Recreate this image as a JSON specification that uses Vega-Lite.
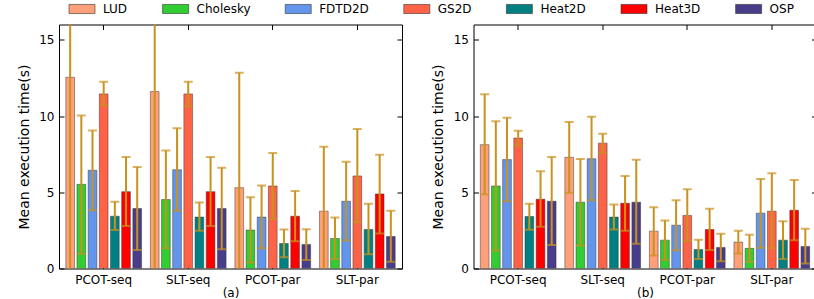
{
  "$schema": "https://vega.github.io/schema/vega-lite/v6.json",
  "padding": {"left": 16, "top": 1.5, "right": 0, "bottom": 0},
  "background": "white",
  "config": {
    "font": "DejaVu Sans",
    "view": {"stroke": "black", "strokeWidth": 1},
    "axis": {"labelFont": "DejaVu Sans", "titleFont": "DejaVu Sans", "labelColor": "black", "titleColor": "black", "tickColor": "black", "domainColor": "black", "labelFontSize": 12, "titleFontWeight": "normal", "grid": false},
    "legend": {"labelFont": "DejaVu Sans", "labelFontSize": 12, "labelColor": "black"}
  },
  "datasets": {
    "d": [
      {"panel": "a", "config": "PCOT-seq", "bench": "LUD", "mean": 12.54, "lo": -1, "hi": 26},
      {"panel": "a", "config": "PCOT-seq", "bench": "Cholesky", "mean": 5.52, "lo": 0.97, "hi": 10.03},
      {"panel": "a", "config": "PCOT-seq", "bench": "FDTD2D", "mean": 6.44, "lo": 3.82, "hi": 9.05},
      {"panel": "a", "config": "PCOT-seq", "bench": "GS2D", "mean": 11.45, "lo": 10.69, "hi": 12.25},
      {"panel": "a", "config": "PCOT-seq", "bench": "Heat2D", "mean": 3.43, "lo": 2.52, "hi": 4.37},
      {"panel": "a", "config": "PCOT-seq", "bench": "Heat3D", "mean": 5.04, "lo": 2.78, "hi": 7.31},
      {"panel": "a", "config": "PCOT-seq", "bench": "OSP", "mean": 3.93, "lo": 1.21, "hi": 6.66},
      {"panel": "a", "config": "SLT-seq", "bench": "LUD", "mean": 11.6, "lo": -1, "hi": 24},
      {"panel": "a", "config": "SLT-seq", "bench": "Cholesky", "mean": 4.52, "lo": 1.32, "hi": 7.74},
      {"panel": "a", "config": "SLT-seq", "bench": "FDTD2D", "mean": 6.48, "lo": 3.78, "hi": 9.2},
      {"panel": "a", "config": "SLT-seq", "bench": "GS2D", "mean": 11.45, "lo": 10.64, "hi": 12.25},
      {"panel": "a", "config": "SLT-seq", "bench": "Heat2D", "mean": 3.37, "lo": 2.47, "hi": 4.32},
      {"panel": "a", "config": "SLT-seq", "bench": "Heat3D", "mean": 5.04, "lo": 2.78, "hi": 7.31},
      {"panel": "a", "config": "SLT-seq", "bench": "OSP", "mean": 3.93, "lo": 1.27, "hi": 6.61},
      {"panel": "a", "config": "PCOT-par", "bench": "LUD", "mean": 5.3, "lo": -2.2, "hi": 12.84},
      {"panel": "a", "config": "PCOT-par", "bench": "Cholesky", "mean": 2.52, "lo": 0.4, "hi": 4.67},
      {"panel": "a", "config": "PCOT-par", "bench": "FDTD2D", "mean": 3.37, "lo": 1.32, "hi": 5.44},
      {"panel": "a", "config": "PCOT-par", "bench": "GS2D", "mean": 5.41, "lo": 3.24, "hi": 7.57},
      {"panel": "a", "config": "PCOT-par", "bench": "Heat2D", "mean": 1.64, "lo": 0.73, "hi": 2.56},
      {"panel": "a", "config": "PCOT-par", "bench": "Heat3D", "mean": 3.43, "lo": 1.78, "hi": 5.08},
      {"panel": "a", "config": "PCOT-par", "bench": "OSP", "mean": 1.58, "lo": 0.56, "hi": 2.58},
      {"panel": "a", "config": "SLT-par", "bench": "LUD", "mean": 3.76, "lo": -0.46, "hi": 7.98},
      {"panel": "a", "config": "SLT-par", "bench": "Cholesky", "mean": 1.97, "lo": 0.62, "hi": 3.34},
      {"panel": "a", "config": "SLT-par", "bench": "FDTD2D", "mean": 4.41, "lo": 1.84, "hi": 7.0},
      {"panel": "a", "config": "SLT-par", "bench": "GS2D", "mean": 6.07, "lo": 3.04, "hi": 9.14},
      {"panel": "a", "config": "SLT-par", "bench": "Heat2D", "mean": 2.56, "lo": 0.93, "hi": 4.24},
      {"panel": "a", "config": "SLT-par", "bench": "Heat3D", "mean": 4.89, "lo": 2.3, "hi": 7.46},
      {"panel": "a", "config": "SLT-par", "bench": "OSP", "mean": 2.1, "lo": 0.45, "hi": 3.78},
      {"panel": "b", "config": "PCOT-seq", "bench": "LUD", "mean": 8.12, "lo": 4.87, "hi": 11.43},
      {"panel": "b", "config": "PCOT-seq", "bench": "Cholesky", "mean": 5.41, "lo": 1.17, "hi": 9.66},
      {"panel": "b", "config": "PCOT-seq", "bench": "FDTD2D", "mean": 7.14, "lo": 4.41, "hi": 9.88},
      {"panel": "b", "config": "PCOT-seq", "bench": "GS2D", "mean": 8.55, "lo": 8.07, "hi": 9.03},
      {"panel": "b", "config": "PCOT-seq", "bench": "Heat2D", "mean": 3.41, "lo": 2.54, "hi": 4.24},
      {"panel": "b", "config": "PCOT-seq", "bench": "Heat3D", "mean": 4.54, "lo": 2.73, "hi": 6.37},
      {"panel": "b", "config": "PCOT-seq", "bench": "OSP", "mean": 4.41, "lo": 1.54, "hi": 7.31},
      {"panel": "b", "config": "SLT-seq", "bench": "LUD", "mean": 7.29, "lo": 4.96, "hi": 9.6},
      {"panel": "b", "config": "SLT-seq", "bench": "Cholesky", "mean": 4.35, "lo": 1.51, "hi": 7.18},
      {"panel": "b", "config": "SLT-seq", "bench": "FDTD2D", "mean": 7.2, "lo": 4.48, "hi": 9.95},
      {"panel": "b", "config": "SLT-seq", "bench": "GS2D", "mean": 8.22, "lo": 7.59, "hi": 8.83},
      {"panel": "b", "config": "SLT-seq", "bench": "Heat2D", "mean": 3.37, "lo": 2.56, "hi": 4.19},
      {"panel": "b", "config": "SLT-seq", "bench": "Heat3D", "mean": 4.28, "lo": 2.47, "hi": 6.07},
      {"panel": "b", "config": "SLT-seq", "bench": "OSP", "mean": 4.35, "lo": 1.62, "hi": 7.13},
      {"panel": "b", "config": "PCOT-par", "bench": "LUD", "mean": 2.45, "lo": 0.86, "hi": 4.02},
      {"panel": "b", "config": "PCOT-par", "bench": "Cholesky", "mean": 1.86, "lo": 0.58, "hi": 3.15},
      {"panel": "b", "config": "PCOT-par", "bench": "FDTD2D", "mean": 2.84, "lo": 1.19, "hi": 4.48},
      {"panel": "b", "config": "PCOT-par", "bench": "GS2D", "mean": 3.48, "lo": 1.8, "hi": 5.2},
      {"panel": "b", "config": "PCOT-par", "bench": "Heat2D", "mean": 1.25, "lo": 0.62, "hi": 1.88},
      {"panel": "b", "config": "PCOT-par", "bench": "Heat3D", "mean": 2.56, "lo": 1.21, "hi": 3.91},
      {"panel": "b", "config": "PCOT-par", "bench": "OSP", "mean": 1.38, "lo": 0.47, "hi": 2.28},
      {"panel": "b", "config": "SLT-par", "bench": "LUD", "mean": 1.73, "lo": 0.99, "hi": 2.47},
      {"panel": "b", "config": "SLT-par", "bench": "Cholesky", "mean": 1.32, "lo": 0.45, "hi": 2.21},
      {"panel": "b", "config": "SLT-par", "bench": "FDTD2D", "mean": 3.63, "lo": 1.36, "hi": 5.87},
      {"panel": "b", "config": "SLT-par", "bench": "GS2D", "mean": 3.76, "lo": 1.32, "hi": 6.24},
      {"panel": "b", "config": "SLT-par", "bench": "Heat2D", "mean": 1.86, "lo": 0.62, "hi": 3.1},
      {"panel": "b", "config": "SLT-par", "bench": "Heat3D", "mean": 3.82, "lo": 1.86, "hi": 5.81},
      {"panel": "b", "config": "SLT-par", "bench": "OSP", "mean": 1.45, "lo": 0.32, "hi": 2.6}
    ]
  },
  "spacing": 27.5,
  "hconcat": [
    {
      "width": 343, "height": 244,
      "data": {"name": "d"},
      "transform": [{"filter": "datum.panel === 'a'"}],
      "resolve": {"axis": {"x": "independent", "y": "independent"}},
      "encoding": {
        "xOffset": {"field": "bench", "type": "nominal", "sort": ["LUD", "Cholesky", "FDTD2D", "GS2D", "Heat2D", "Heat3D", "OSP"], "scale": {"paddingInner": 0.22, "paddingOuter": 0.11}}
      },
      "layer": [
        {
          "mark": {"type": "bar", "clip": true, "stroke": "#333333", "strokeWidth": 0.6, "strokeOpacity": 0.8},
          "encoding": {
            "x": {"field": "config", "type": "nominal", "sort": ["PCOT-seq", "SLT-seq", "PCOT-par", "SLT-par"], "scale": {"paddingInner": 0.075, "paddingOuter": 0.066}, "axis": {"title": "(a)", "labelAngle": 0, "tickSize": -5, "labelPadding": 10.5, "titleFontSize": 12, "titlePadding": 0.5, "minExtent": 18, "maxExtent": 18, "domain": false}},
            "y": {"field": "mean", "type": "quantitative", "scale": {"domain": [0, 16], "nice": false}, "axis": {"title": "Mean execution time(s)", "titleFontSize": 14, "values": [0, 5, 10, 15], "tickSize": -5, "labelPadding": 10, "titlePadding": 7.8, "minExtent": 20, "maxExtent": 20, "domain": false}},
            "color": {"field": "bench", "type": "nominal", "sort": ["LUD", "Cholesky", "FDTD2D", "GS2D", "Heat2D", "Heat3D", "OSP"],
              "scale": {"domain": ["LUD", "Cholesky", "FDTD2D", "GS2D", "Heat2D", "Heat3D", "OSP"], "range": ["#FFA07A", "#32CD32", "#6495ED", "#FF6347", "#008080", "#FF0000", "#483D8B"]},
              "legend": {"title": null, "orient": "none", "direction": "horizontal", "columns": 7, "legendX": 16, "legendY": -22.5, "symbolType": "M-2,-0.7H2V0.7H-2Z", "symbolSize": 169, "symbolStrokeColor": "#444444", "symbolStrokeWidth": 0.6, "labelOffset": 14, "columnPadding": 32.6, "symbolOpacity": 1}}
          }
        },
        {
          "mark": {"type": "rule", "clip": true, "color": "#C8921C", "strokeWidth": 2},
          "encoding": {
            "x": {"field": "config", "type": "nominal", "sort": ["PCOT-seq", "SLT-seq", "PCOT-par", "SLT-par"], "axis": null},
            "y": {"field": "lo", "type": "quantitative", "axis": null}, "y2": {"field": "hi"}}
        },
        {
          "mark": {"type": "tick", "clip": true, "color": "#C8921C", "thickness": 2, "size": 9},
          "encoding": {
            "x": {"field": "config", "type": "nominal", "sort": ["PCOT-seq", "SLT-seq", "PCOT-par", "SLT-par"], "axis": {"orient": "top", "title": null, "labels": false, "tickSize": -5, "domain": false, "minExtent": 0, "maxExtent": 0}},
            "y": {"field": "lo", "type": "quantitative", "axis": null}}
        },
        {
          "mark": {"type": "tick", "clip": true, "color": "#C8921C", "thickness": 2, "size": 9},
          "encoding": {
            "x": {"field": "config", "type": "nominal", "sort": ["PCOT-seq", "SLT-seq", "PCOT-par", "SLT-par"], "axis": null},
            "y": {"field": "hi", "type": "quantitative", "axis": {"orient": "right", "title": null, "labels": false, "tickSize": -5, "domain": false, "values": [0, 5, 10, 15], "minExtent": 0, "maxExtent": 0}}}
        }
      ]
    },
    {
      "width": 343, "height": 244,
      "data": {"name": "d"},
      "transform": [{"filter": "datum.panel === 'b'"}],
      "resolve": {"axis": {"x": "independent", "y": "independent"}},
      "encoding": {
        "xOffset": {"field": "bench", "type": "nominal", "sort": ["LUD", "Cholesky", "FDTD2D", "GS2D", "Heat2D", "Heat3D", "OSP"], "scale": {"paddingInner": 0.22, "paddingOuter": 0.11}}
      },
      "layer": [
        {
          "mark": {"type": "bar", "clip": true, "stroke": "#333333", "strokeWidth": 0.6, "strokeOpacity": 0.8},
          "encoding": {
            "x": {"field": "config", "type": "nominal", "sort": ["PCOT-seq", "SLT-seq", "PCOT-par", "SLT-par"], "scale": {"paddingInner": 0.075, "paddingOuter": 0.066}, "axis": {"title": "(b)", "labelAngle": 0, "tickSize": -5, "labelPadding": 10.5, "titleFontSize": 12, "titlePadding": 0.5, "minExtent": 18, "maxExtent": 18, "domain": false}},
            "y": {"field": "mean", "type": "quantitative", "scale": {"domain": [0, 16], "nice": false}, "axis": {"title": "Mean execution time(s)", "titleFontSize": 14, "values": [0, 5, 10, 15], "tickSize": -5, "labelPadding": 10, "titlePadding": 7.8, "minExtent": 20, "maxExtent": 20, "domain": false}},
            "color": {"field": "bench", "type": "nominal", "sort": ["LUD", "Cholesky", "FDTD2D", "GS2D", "Heat2D", "Heat3D", "OSP"]}
          }
        },
        {
          "mark": {"type": "rule", "clip": true, "color": "#C8921C", "strokeWidth": 2},
          "encoding": {
            "x": {"field": "config", "type": "nominal", "sort": ["PCOT-seq", "SLT-seq", "PCOT-par", "SLT-par"], "axis": null},
            "y": {"field": "lo", "type": "quantitative", "axis": null}, "y2": {"field": "hi"}}
        },
        {
          "mark": {"type": "tick", "clip": true, "color": "#C8921C", "thickness": 2, "size": 9},
          "encoding": {
            "x": {"field": "config", "type": "nominal", "sort": ["PCOT-seq", "SLT-seq", "PCOT-par", "SLT-par"], "axis": {"orient": "top", "title": null, "labels": false, "tickSize": -5, "domain": false, "minExtent": 0, "maxExtent": 0}},
            "y": {"field": "lo", "type": "quantitative", "axis": null}}
        },
        {
          "mark": {"type": "tick", "clip": true, "color": "#C8921C", "thickness": 2, "size": 9},
          "encoding": {
            "x": {"field": "config", "type": "nominal", "sort": ["PCOT-seq", "SLT-seq", "PCOT-par", "SLT-par"], "axis": null},
            "y": {"field": "hi", "type": "quantitative", "axis": {"orient": "right", "title": null, "labels": false, "tickSize": -5, "domain": false, "values": [0, 5, 10, 15], "minExtent": 0, "maxExtent": 0}}}
        }
      ]
    }
  ]
}
